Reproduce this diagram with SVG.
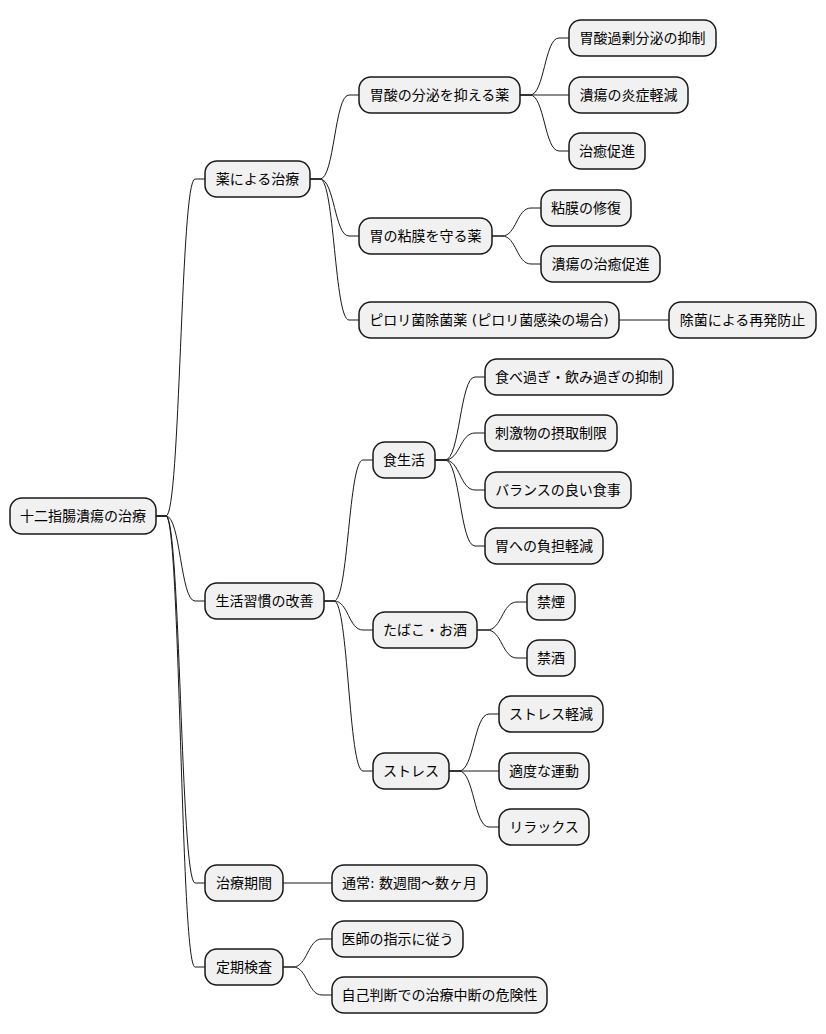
<svg xmlns="http://www.w3.org/2000/svg" width="826" height="1034" viewBox="0 0 826 1034">
<style>
.n rect{fill:#f1f1f1;stroke:#181818;stroke-width:1.5}
.n text{font-family:"DejaVu Sans","Noto Sans CJK JP",sans-serif;font-size:14px;fill:#000;text-anchor:middle}
#edges path{fill:none;stroke:#181818;stroke-width:1}
</style>
<rect width="826" height="1034" fill="#ffffff"/>
<g id="edges">
<path d="M156,516 L166,516 C180.5,516 180.5,179 195,179 L205,179"/>
<path d="M156,516 L166,516 C180.5,516 180.5,601 195,601 L205,601"/>
<path d="M156,516 L166,516 C180.5,516 180.5,883 195,883 L205,883"/>
<path d="M156,516 L166,516 C180.5,516 180.5,967 195,967 L205,967"/>
<path d="M310,179 L320,179 C334.5,179 334.5,95 349,95 L359,95"/>
<path d="M310,179 L320,179 C334.5,179 334.5,236 349,236 L359,236"/>
<path d="M310,179 L320,179 C334.5,179 334.5,320 349,320 L359,320"/>
<path d="M520,95 L530,95 C544.5,95 544.5,38 559,38 L569,38"/>
<path d="M520,95 L569,95"/>
<path d="M520,95 L530,95 C544.5,95 544.5,151 559,151 L569,151"/>
<path d="M492,236 L502,236 C516.5,236 516.5,208 531,208 L541,208"/>
<path d="M492,236 L502,236 C516.5,236 516.5,264 531,264 L541,264"/>
<path d="M619,320 L669,320"/>
<path d="M324,601 L334,601 C348.5,601 348.5,460 363,460 L373,460"/>
<path d="M324,601 L334,601 C348.5,601 348.5,630 363,630 L373,630"/>
<path d="M324,601 L334,601 C348.5,601 348.5,771 363,771 L373,771"/>
<path d="M435,460 L445,460 C460,460 460,377 475,377 L485,377"/>
<path d="M435,460 L445,460 C460,460 460,433 475,433 L485,433"/>
<path d="M435,460 L445,460 C460,460 460,490 475,490 L485,490"/>
<path d="M435,460 L445,460 C460,460 460,546 475,546 L485,546"/>
<path d="M477,630 L487,630 C502,630 502,602 517,602 L527,602"/>
<path d="M477,630 L487,630 C502,630 502,658 517,658 L527,658"/>
<path d="M449,771 L459,771 C474,771 474,714 489,714 L499,714"/>
<path d="M449,771 L499,771"/>
<path d="M449,771 L459,771 C474,771 474,827 489,827 L499,827"/>
<path d="M283,883 L332,883"/>
<path d="M283,967 L293,967 C307.5,967 307.5,939 322,939 L332,939"/>
<path d="M283,967 L293,967 C307.5,967 307.5,995 322,995 L332,995"/>
</g>
<g id="root" class="n"><rect x="10" y="498" width="146" height="36" rx="12"/><text x="83" y="521">十二指腸潰瘍の治療</text></g>
<g id="n1" class="n"><rect x="205" y="161" width="105" height="36" rx="12"/><text x="257.5" y="184">薬による治療</text></g>
<g id="n2" class="n"><rect x="205" y="583" width="119" height="36" rx="12"/><text x="264.5" y="606">生活習慣の改善</text></g>
<g id="n3" class="n"><rect x="205" y="865" width="78" height="36" rx="12"/><text x="244" y="888">治療期間</text></g>
<g id="n4" class="n"><rect x="205" y="949" width="78" height="36" rx="12"/><text x="244" y="972">定期検査</text></g>
<g id="n11" class="n"><rect x="359" y="77" width="161" height="36" rx="12"/><text x="439.5" y="100">胃酸の分泌を抑える薬</text></g>
<g id="n12" class="n"><rect x="359" y="218" width="133" height="36" rx="12"/><text x="425.5" y="241">胃の粘膜を守る薬</text></g>
<g id="n13" class="n"><rect x="359" y="302" width="260" height="36" rx="12"/><text x="489" y="325">ピロリ菌除菌薬 (ピロリ菌感染の場合)</text></g>
<g id="n111" class="n"><rect x="569" y="20" width="147" height="36" rx="12"/><text x="642.5" y="43">胃酸過剰分泌の抑制</text></g>
<g id="n112" class="n"><rect x="569" y="77" width="119" height="36" rx="12"/><text x="628.5" y="100">潰瘍の炎症軽減</text></g>
<g id="n113" class="n"><rect x="569" y="133" width="76" height="36" rx="12"/><text x="607" y="156">治癒促進</text></g>
<g id="n121" class="n"><rect x="541" y="190" width="90" height="36" rx="12"/><text x="586" y="213">粘膜の修復</text></g>
<g id="n122" class="n"><rect x="541" y="246" width="119" height="36" rx="12"/><text x="600.5" y="269">潰瘍の治癒促進</text></g>
<g id="n131" class="n"><rect x="669" y="302" width="147" height="36" rx="12"/><text x="742.5" y="325">除菌による再発防止</text></g>
<g id="n21" class="n"><rect x="373" y="442" width="62" height="36" rx="12"/><text x="404" y="465">食生活</text></g>
<g id="n22" class="n"><rect x="373" y="612" width="104" height="36" rx="12"/><text x="425" y="635">たばこ・お酒</text></g>
<g id="n23" class="n"><rect x="373" y="753" width="76" height="36" rx="12"/><text x="411" y="776">ストレス</text></g>
<g id="n211" class="n"><rect x="485" y="359" width="188" height="36" rx="12"/><text x="579" y="382">食べ過ぎ・飲み過ぎの抑制</text></g>
<g id="n212" class="n"><rect x="485" y="415" width="132" height="36" rx="12"/><text x="551" y="438">刺激物の摂取制限</text></g>
<g id="n213" class="n"><rect x="485" y="472" width="146" height="36" rx="12"/><text x="558" y="495">バランスの良い食事</text></g>
<g id="n214" class="n"><rect x="485" y="528" width="118" height="36" rx="12"/><text x="544" y="551">胃への負担軽減</text></g>
<g id="n221" class="n"><rect x="527" y="584" width="48" height="36" rx="12"/><text x="551" y="607">禁煙</text></g>
<g id="n222" class="n"><rect x="527" y="640" width="48" height="36" rx="12"/><text x="551" y="663">禁酒</text></g>
<g id="n231" class="n"><rect x="499" y="696" width="104" height="36" rx="12"/><text x="551" y="719">ストレス軽減</text></g>
<g id="n232" class="n"><rect x="499" y="753" width="90" height="36" rx="12"/><text x="544" y="776">適度な運動</text></g>
<g id="n233" class="n"><rect x="499" y="809" width="90" height="36" rx="12"/><text x="544" y="832">リラックス</text></g>
<g id="n31" class="n"><rect x="332" y="865" width="155" height="36" rx="12"/><text x="409.5" y="888">通常: 数週間〜数ヶ月</text></g>
<g id="n41" class="n"><rect x="332" y="921" width="131" height="36" rx="12"/><text x="397.5" y="944">医師の指示に従う</text></g>
<g id="n42" class="n"><rect x="332" y="977" width="215" height="36" rx="12"/><text x="439.5" y="1000">自己判断での治療中断の危険性</text></g>
</svg>
